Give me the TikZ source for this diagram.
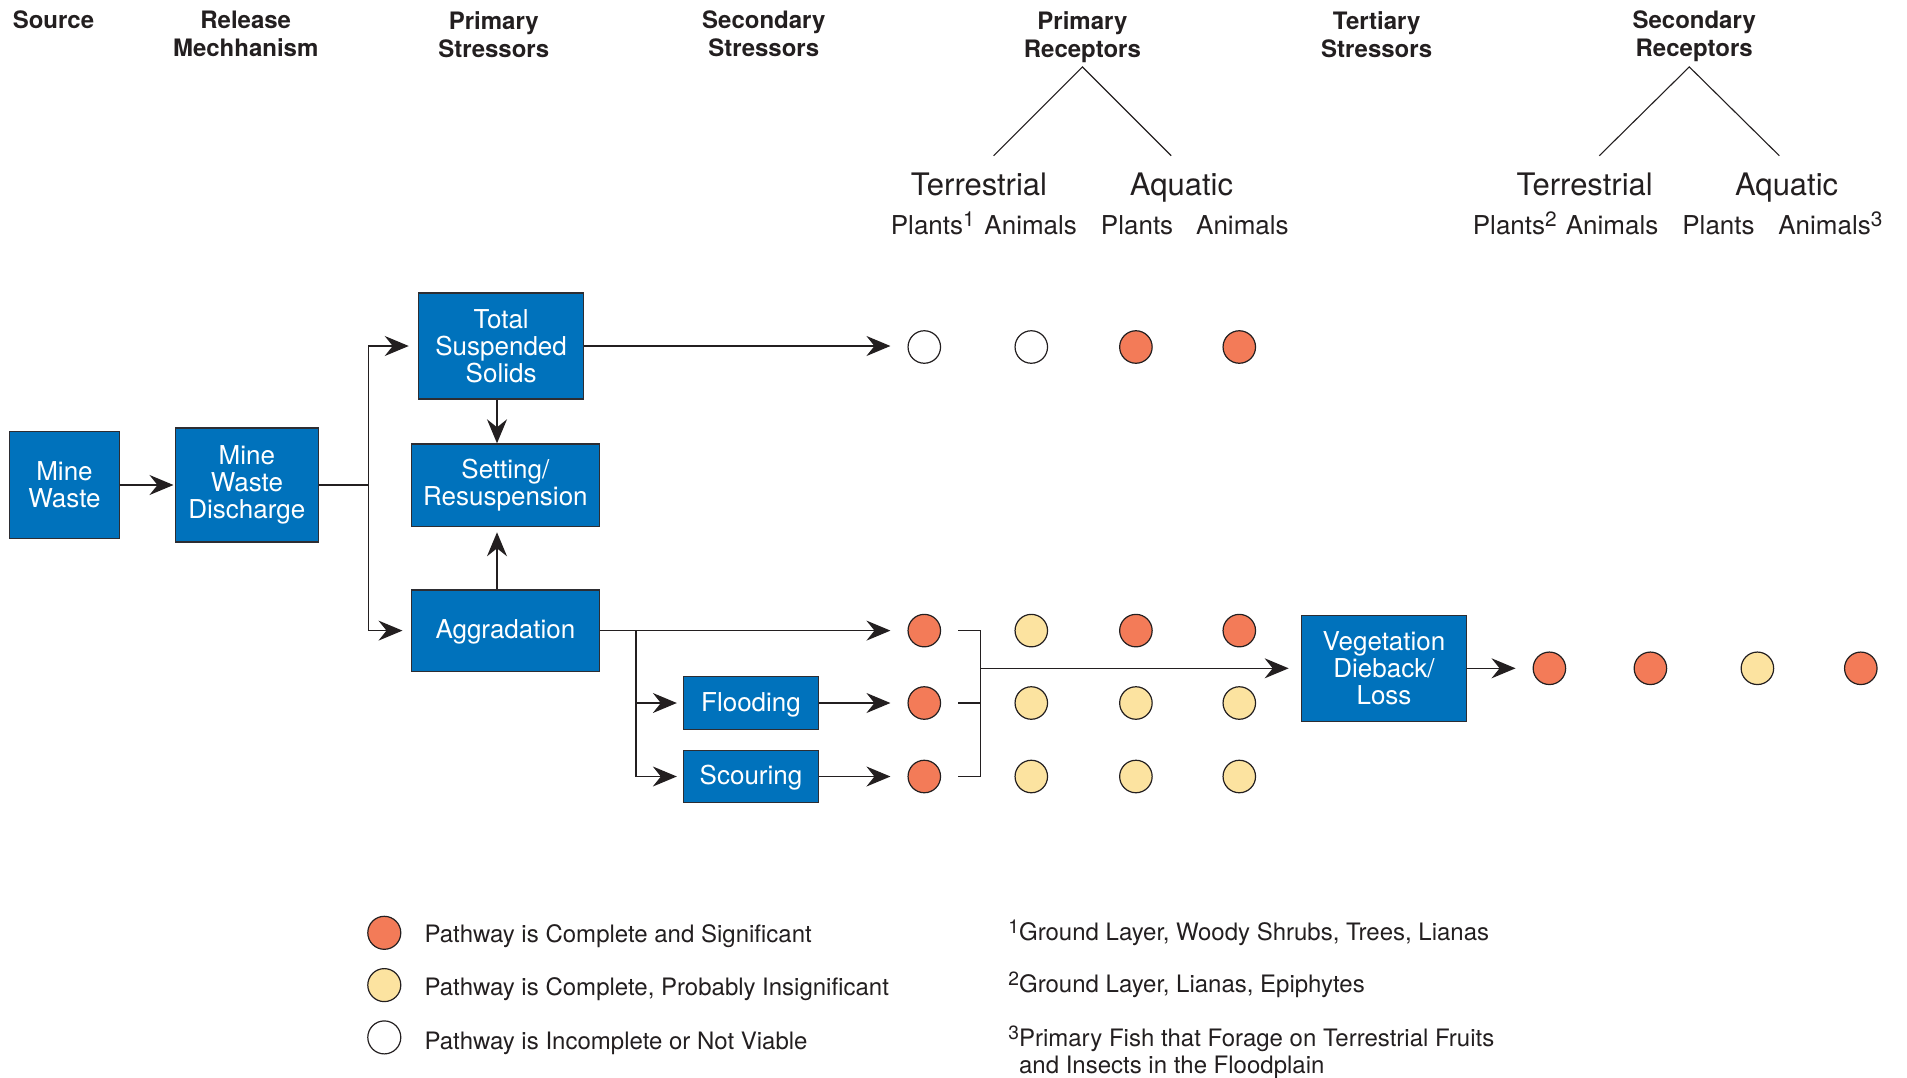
\documentclass[tikz,border=0pt]{standalone}
\usepackage{fontspec}
\setmainfont{TeX Gyre Heros}
\usetikzlibrary{arrows.meta}

\definecolor{ink}{RGB}{35,31,32}
\definecolor{boxblue}{RGB}{0,114,188}
\definecolor{boxedge}{RGB}{45,45,50}
\definecolor{sigred}{RGB}{243,123,88}
\definecolor{insyellow}{RGB}{252,227,160}

% raised reference numeral, kept out of the line height
\newcommand\fnmark[1]{\smash{\raisebox{.3em}{\scalebox{.8}{#1}}}}

\begin{document}
\begin{tikzpicture}[x=1pt,y=-1pt,
  every node/.style={text=ink},
  box/.style={draw=boxedge, line width=1.3pt, fill=boxblue, text=white,
    align=center, inner sep=0pt, font=\fontsize{26}{27}\selectfont},
  oneline/.style={text height=19pt, text depth=3pt},
  dot/.style={circle, draw=ink, line width=1.2pt, minimum size=32.5pt, inner sep=0pt},
  sig/.style={dot, fill=sigred},
  ins/.style={dot, fill=insyellow},
  nv/.style={dot, fill=white},
  link/.style={draw=ink, line width=1.3pt},
  arr/.style={link, -{Stealth[length=24pt, width=20pt, inset=8pt]}},
  head/.style={font=\bfseries\fontsize{24}{28}\selectfont, align=center,
    anchor=north, inner sep=0pt},
  group/.style={font=\fontsize{31}{34}\selectfont, anchor=base, inner sep=0pt},
  kind/.style={font=\fontsize{26}{28}\selectfont, anchor=base, inner sep=0pt},
  note/.style={font=\fontsize{24}{27}\selectfont, inner sep=0pt},
]
\useasboundingbox (0,0) rectangle (1907,1077);

% column headings
\node[head] (hsrc) at (53.5,11) {Source};
\node[head] (hrel) at (245.7,11) {Release\\Mechhanism};
\node[head] (hps)  at (493.8,11) {Primary\\Stressors};
\node[head] (hss)  at (763.8,11) {Secondary\\Stressors};
\node[head] (hpr)  at (1082.4,11) {Primary\\Receptors};
\node[head] (hts)  at (1376.7,11) {Tertiary\\Stressors};
\node[head] (hsr)  at (1694.2,11) {Secondary\\Receptors};

% receptor trees
\coordinate (pra) at (1082.4,66.9);
\coordinate (prl) at (993.6,155.7);
\coordinate (prr) at (1171.2,155.7);
\coordinate (sra) at (1689.3,66.9);
\coordinate (srl) at (1599.3,155.7);
\coordinate (srr) at (1779.3,155.7);
\draw[link, line width=1.1pt] (prl) -- (pra) -- (prr);
\draw[link, line width=1.1pt] (srl) -- (sra) -- (srr);

\node[group] (pter) at (979,195.5) {Terrestrial};
\node[group] (paq)  at (1181.5,195.5) {Aquatic};
\node[group] (ster) at (1584.7,195.5) {Terrestrial};
\node[group] (saq)  at (1786.6,195.5) {Aquatic};

\node[kind] (k1) at (932.8,234.4) {Plants\fnmark{1}};
\node[kind] (k2) at (1030.7,234.4) {Animals};
\node[kind] (k3) at (1137.1,234.4) {Plants};
\node[kind] (k4) at (1242.4,234.4) {Animals};
\node[kind] (k5) at (1514.8,234.4) {Plants\fnmark{2}};
\node[kind] (k6) at (1612.1,234.4) {Animals};
\node[kind] (k7) at (1718.5,234.4) {Plants};
\node[kind] (k8) at (1830.4,234.4) {Animals\fnmark{3}};

% process boxes
\node[box, minimum width=109.5pt, minimum height=107pt] (mw)  at (64.5,485) {Mine\\Waste};
\node[box, minimum width=143.5pt, minimum height=114pt] (mwd) at (246.9,485) {Mine\\Waste\\Discharge};
\node[box, minimum width=165.4pt, minimum height=105.8pt] (tss) at (501.1,346) {Total\\Suspended\\Solids};
\node[box, minimum width=188.5pt, minimum height=82.7pt] (set) at (505.4,485.3) {Setting/\\Resuspension};
\node[box, oneline, minimum width=188.5pt, minimum height=81.4pt] (agg) at (505.4,630.6) {Aggradation};
\node[box, oneline, minimum width=135pt, minimum height=53.5pt] (fl)  at (751,703) {Flooding};
\node[box, oneline, minimum width=135pt, minimum height=52.3pt] (sc)  at (751,776.5) {Scouring};
\node[box, minimum width=165.4pt, minimum height=105.8pt] (veg) at (1384,668.3) {Vegetation\\Dieback/\\Loss};

% primary receptor pathways
\node[nv]  (c00) at (924.3,347) {};
\node[nv]  (c01) at (1031.3,347) {};
\node[sig] (c02) at (1135.9,347) {};
\node[sig] (c03) at (1239.3,347) {};

\node[sig] (c10) at (924.3,630.6) {};
\node[ins] (c11) at (1031.3,630.6) {};
\node[sig] (c12) at (1135.9,630.6) {};
\node[sig] (c13) at (1239.3,630.6) {};

\node[sig] (c20) at (924.3,703) {};
\node[ins] (c21) at (1031.3,703) {};
\node[ins] (c22) at (1135.9,703) {};
\node[ins] (c23) at (1239.3,703) {};

\node[sig] (c30) at (924.3,776.5) {};
\node[ins] (c31) at (1031.3,776.5) {};
\node[ins] (c32) at (1135.9,776.5) {};
\node[ins] (c33) at (1239.3,776.5) {};

% secondary receptor pathways
\node[sig] (v0) at (1549.4,668.3) {};
\node[sig] (v1) at (1650.4,668.3) {};
\node[ins] (v2) at (1757.4,668.3) {};
\node[sig] (v3) at (1860.8,668.3) {};

% connectors
\draw[arr, shorten >=1pt] (mw) -- (mwd);
\coordinate (bus) at (368.5,485);
\draw[link] (mwd.east) -- (bus);
\draw[arr, shorten >=9pt] (bus) |- (tss.west);
\draw[arr, shorten >=8pt] (bus) |- (agg.west);
\draw[arr] ([xshift=-4.1pt]tss.south) -- ([xshift=-4.1pt]tss.south |- set.north);
\draw[arr, shorten >=5pt] ([xshift=-8.4pt]agg.north) -- ([xshift=-8.4pt]agg.north |- set.south);
\draw[arr, shorten >=17pt] (tss.east) -- (tss.east -| c00.west);
\draw[arr, shorten >=17pt] (agg) -- (c10);
\coordinate (fork) at (636,630.6);
\draw[arr, shorten >=6pt] (fork) |- (fl.west);
\draw[arr, shorten >=6pt] (fork) |- (sc.west);
\draw[arr, shorten >=17pt] (fl) -- (c20);
\draw[arr, shorten >=17pt] (sc) -- (c30);

\coordinate (join) at (980.3,668.3);
\draw[link] ([xshift=17pt]c10.east) -- (c10 -| join) -- (c30 -| join) -- ([xshift=17pt]c30.east);
\draw[link] ([xshift=17pt]c20.east) -- (c20 -| join);
\draw[arr, shorten >=12pt] (join) -- (veg.west);
\draw[arr, shorten >=17pt] (veg) -- (v0);

% legend
\node[sig, minimum size=33pt] (l1) at (384.3,932.8) {};
\node[ins, minimum size=33pt] (l2) at (384.3,985.1) {};
\node[nv,  minimum size=33pt] (l3) at (384.3,1037.4) {};
\node[note, anchor=base west] (l1t) at (424.4,942.3) {Pathway is Complete and Significant};
\node[note, anchor=base west] (l2t) at (424.4,995.8) {Pathway is Complete, Probably Insignificant};
\node[note, anchor=base west] (l3t) at (424.4,1049.3) {Pathway is Incomplete or Not Viable};

% footnotes
\node[note, anchor=base west] (n1) at (1008.2,940.2) {\fnmark{1}Ground Layer, Woody Shrubs, Trees, Lianas};
\node[note, anchor=base west] (n2) at (1008.2,992.5) {\fnmark{2}Ground Layer, Lianas, Epiphytes};
\node[note, anchor=north west, align=left] (n3) at (1008.2,1028.6)
  {\fnmark{3}Primary Fish that Forage on Terrestrial Fruits\\\phantom{\fnmark{3}}and Insects in the Floodplain};
\end{tikzpicture}
\end{document}
